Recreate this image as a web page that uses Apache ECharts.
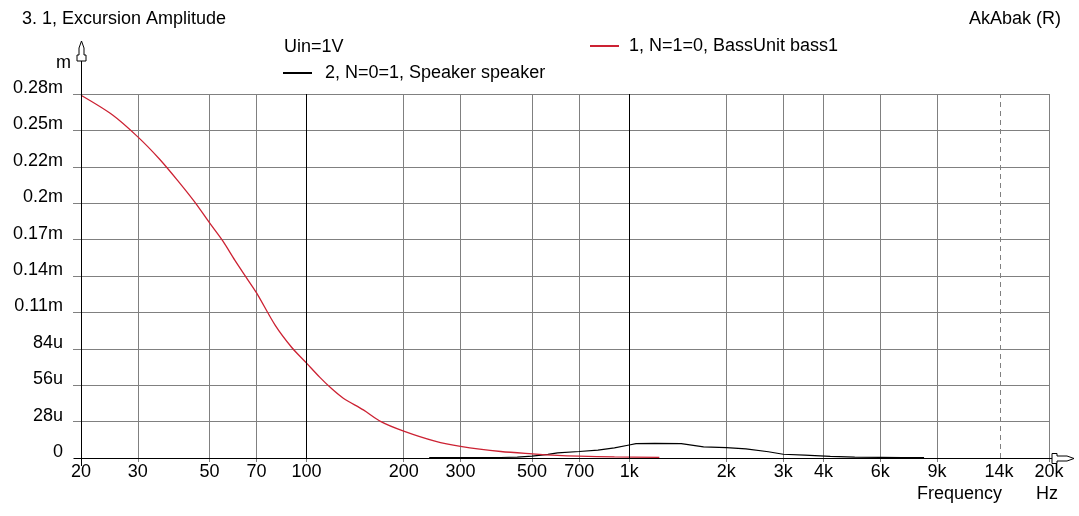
<!DOCTYPE html>
<html><head><meta charset="utf-8">
<script src="https://cdn.jsdelivr.net/npm/echarts@6/dist/echarts.min.js"></script>
<style>html,body{margin:0;padding:0;background:#fff}#c{width:1079px;height:516px}</style>
</head><body><div id="c"></div>
<script>
// ---- data (frequency in Hz, excursion in micrometres "u") ----
const bassName = '1, N=1=0, BassUnit bass1';
const bassFreq = [20,25,30,35,40,45,50,55,60,65,70,80,90,100,110,120,130,150,170,200,250,300,400,500,600,700,900,1240];
const bassVal  = [279,264,247,230,213,197,181,167,152,139,127,102,85,73,62,53,46,37,28,20.7,13,9,5,3.2,2,1.4,0.8,0.5];

const spkName = '2, N=0=1, Speaker speaker';
const spkFreq = [240,300,400,450,500,560,600,700,800,900,1000,1050,1200,1450,1700,2000,2300,2700,3000,3500,4200,5000,6000,7000,8200];
const spkVal  = [0.3,0.3,0.4,0.6,1.5,2.8,4,5,6,7.8,10,11,11.2,11,8.6,8,7,4.8,2.9,2.2,1.2,0.6,0.5,0.4,0.3];

const xTickFreq   = [20,30,50,70,100,200,300,500,700,1000,2000,3000,4000,6000,9000,14000,20000];
const xTickLabels = ['20','30','50','70','100','200','300','500','700','1k','2k','3k','4k','6k','9k','14k','20k'];
const yTickLabels = ['0','28u','56u','84u','0.11m','0.14m','0.17m','0.2m','0.22m','0.25m','0.28m'];
const yStep = 28, yMax = 280;
const darkFreq = [100, 1000];
const dashedFreq = [14000];

// ---- layout ----
const GL = 81, GT = 94, GR = 1049, GB = 458;
const FONT = "'Liberation Sans', Arial, sans-serif";
const FS = 18;

const lg = Math.log10;
const labelMap = {};
xTickFreq.forEach((f, i) => { labelMap[f] = xTickLabels[i]; });
const gridFreq = xTickFreq.filter(f => dashedFreq.indexOf(f) < 0);

const chart = echarts.init(document.getElementById('c'), null, {renderer: 'canvas'});
const txt = {fontFamily: FONT, fontSize: FS, color: '#000', fontWeight: 'normal'};

chart.setOption({
  animation: false,
  backgroundColor: '#fff',
  title: [
    {text: '3. 1, Excursion Amplitude', left: 22, top: 10, padding: 0, textStyle: txt},
    {text: 'AkAbak (R)', right: 18, top: 10, padding: 0, textStyle: txt},
    {text: 'Uin=1V', left: 284, top: 38, padding: 0, textStyle: txt},
    {text: 'm', left: 56, top: 54, padding: 0, textStyle: txt},
    {text: 'Frequency', left: 917, top: 485, padding: 0, textStyle: txt},
    {text: 'Hz', left: 1036, top: 485, padding: 0, textStyle: txt}
  ],
  legend: [
    {data: [bassName], left: 590, top: 37, padding: 0, icon: 'rect', itemWidth: 29, itemHeight: 2,
     textStyle: Object.assign({padding: [0, 0, 0, 5]}, txt), selectedMode: false},
    {data: [spkName], left: 283, top: 64, padding: 0, icon: 'rect', itemWidth: 29, itemHeight: 2,
     textStyle: Object.assign({padding: [0, 0, 0, 8]}, txt), selectedMode: false}
  ],
  grid: {left: GL, top: GT, right: 1079 - GR, bottom: 516 - GB, containLabel: false},
  xAxis: {
    type: 'value', min: lg(20), max: lg(20000),
    axisLine: {show: false},
    axisTick: {show: true, length: 4, lineStyle: {color: '#808080'}, customValues: gridFreq.map(lg)},
    splitLine: {show: true, lineStyle: {color: '#808080', width: 1}},
    axisLabel: {
      customValues: xTickFreq.map(lg), margin: 5,
      fontFamily: FONT, fontSize: FS, color: '#000',
      formatter: v => labelMap[Math.round(Math.pow(10, v))] || ''
    }
  },
  yAxis: {
    type: 'value', min: 0, max: yMax, interval: yStep,
    axisLine: {show: false},
    axisTick: {show: true, length: 8, lineStyle: {color: '#808080'}},
    splitLine: {show: true, lineStyle: {color: '#808080', width: 1}},
    axisLabel: {
      margin: 18, fontFamily: FONT, fontSize: FS, color: '#000',
      verticalAlign: 'bottom', lineHeight: 12,
      formatter: v => yTickLabels[Math.round(v / yStep)]
    }
  },
  series: [
    {
      name: spkName, type: 'line', color: '#000', showSymbol: false, symbol: 'none',
      lineStyle: {color: '#000', width: 1.2}, z: 3,
      data: spkFreq.map((f, i) => [lg(f), spkVal[i]]),
      markLine: {
        silent: true, symbol: ['none', 'none'], label: {show: false}, animation: false,
        data: darkFreq.map(f => ({xAxis: lg(f), lineStyle: {color: '#000', width: 1, type: 'solid'}}))
          .concat(dashedFreq.map(f => ({xAxis: lg(f), lineStyle: {color: '#808080', width: 1, type: [5, 4]}})))
      }
    },
    {
      name: bassName, type: 'line', color: '#cc2233', showSymbol: false, symbol: 'none', smooth: 0.3,
      lineStyle: {color: '#cc2233', width: 1.3}, z: 4,
      data: bassFreq.map((f, i) => [lg(f), bassVal[i]])
    }
  ],
  graphic: [
    {type: 'line', z: 100, shape: {x1: GL - 7, y1: GB + 0.5, x2: 1052, y2: GB + 0.5}, style: {stroke: '#000', lineWidth: 1}},
    {type: 'polygon', z: 100, shape: {points: [[1052, GB - 4.5], [1057, GB - 4.5], [1057, GB - 2], [1067, GB - 2], [1074, GB + 0.5], [1067, GB + 3], [1057, GB + 3], [1057, GB + 5.5], [1052, GB + 5.5]]},
     style: {fill: '#fff', stroke: '#000', lineWidth: 1}},
    {type: 'line', z: 100, shape: {x1: GL + 0.5, y1: 61, x2: GL + 0.5, y2: GB + 8}, style: {stroke: '#000', lineWidth: 1}},
    {type: 'polygon', z: 100, shape: {points: [[GL + 0.5, 41], [GL + 3, 48], [GL + 3, 55], [GL + 5, 55], [GL + 5, 61], [GL - 4, 61], [GL - 4, 55], [GL - 2, 55], [GL - 2, 48]]},
     style: {fill: '#fff', stroke: '#000', lineWidth: 1}}
  ]
});
</script></body></html>
